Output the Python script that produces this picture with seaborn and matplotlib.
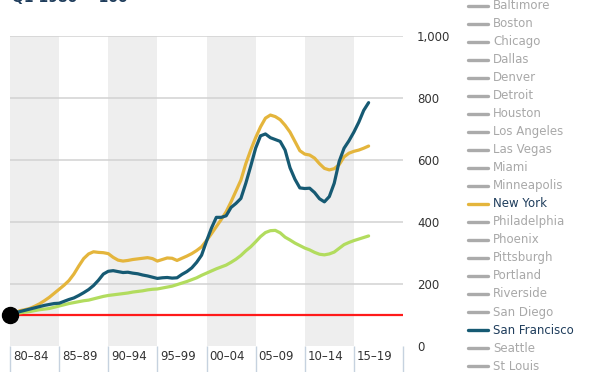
import numpy as np
import pandas as pd
import seaborn as sns
import matplotlib.pyplot as plt
from matplotlib.lines import Line2D
from matplotlib import transforms

sns.set_style('white')
plt.rcParams['font.family'] = ['DejaVu Sans']

years = [1980.0, 1980.5, 1981.0, 1981.5, 1982.0, 1982.5, 1983.0, 1983.5, 1984.0, 1984.5,
         1985.0, 1985.5, 1986.0, 1986.5, 1987.0, 1987.5, 1988.0, 1988.5, 1989.0, 1989.5,
         1990.0, 1990.5, 1991.0, 1991.5, 1992.0, 1992.5, 1993.0, 1993.5, 1994.0, 1994.5,
         1995.0, 1995.5, 1996.0, 1996.5, 1997.0, 1997.5, 1998.0, 1998.5, 1999.0, 1999.5,
         2000.0, 2000.5, 2001.0, 2001.5, 2002.0, 2002.5, 2003.0, 2003.5, 2004.0, 2004.5,
         2005.0, 2005.5, 2006.0, 2006.5, 2007.0, 2007.5, 2008.0, 2008.5, 2009.0, 2009.5,
         2010.0, 2010.5, 2011.0, 2011.5, 2012.0, 2012.5, 2013.0, 2013.5, 2014.0, 2014.5,
         2015.0, 2015.5, 2016.0, 2016.5]

new_york = [100, 106, 114, 117, 121, 128, 136, 146, 157, 170,
            183, 196, 211, 232, 258, 282, 297, 304, 302, 301,
            298, 286, 277, 274, 276, 279, 281, 283, 285, 282,
            274, 279, 284, 283, 276, 283, 290, 298, 308, 320,
            340, 362, 385, 408, 433, 465, 500, 535, 588, 632,
            672, 707, 735, 745, 740, 730, 712, 690, 660, 630,
            619, 616, 606, 588, 573, 568, 572, 585, 610, 622,
            628, 632, 638, 645]

san_francisco = [100, 106, 111, 115, 119, 123, 127, 131, 134, 137,
                 138, 144, 150, 155, 163, 172, 182, 195, 212, 232,
                 241, 243, 240, 237, 238, 235, 233, 229, 226, 222,
                 218, 220, 221, 219, 220, 231, 240, 252, 270, 293,
                 338, 380, 415, 415, 420, 447, 460, 476, 525, 580,
                 638, 678, 684, 672, 666, 660, 632, 575, 538, 510,
                 508, 509, 495, 475, 465, 482, 525, 595, 638, 662,
                 690, 722, 760, 785]

national = [100, 104, 107, 109, 111, 114, 117, 119, 121, 125,
            129, 133, 137, 140, 143, 146, 148, 152, 156, 160,
            163, 165, 167, 169, 171, 174, 176, 178, 181, 183,
            184, 187, 190, 193, 198, 203, 208, 214, 220, 228,
            235, 242, 249, 255, 261, 270, 280, 292, 307, 320,
            336, 353, 366, 372, 373, 365, 351, 342, 332, 324,
            316, 310, 302, 296, 294, 297, 303, 315, 327, 334,
            340, 345, 350, 355]

period_starts = [1980, 1985, 1990, 1995, 2000, 2005, 2010, 2015]
period_labels = ['80–84', '85–89', '90–94', '95–99', '00–04', '05–09', '10–14', '15–19']
y_ticks = [0, 200, 400, 600, 800, 1000]

cities = ['Baltimore', 'Boston', 'Chicago', 'Dallas', 'Denver', 'Detroit', 'Houston',
          'Los Angeles', 'Las Vegas', 'Miami', 'Minneapolis', 'New York', 'Philadelphia',
          'Phoenix', 'Pittsburgh', 'Portland', 'Riverside', 'San Diego', 'San Francisco',
          'Seattle', 'St Louis']

colors = {'New York': '#e4b53c', 'San Francisco': '#165a73', 'National': '#b2dc5e'}

df = pd.DataFrame({'year': years, 'New York': new_york,
                   'San Francisco': san_francisco, 'National': national})
long = df.melt(id_vars='year', var_name='series', value_name='index')

W, H = 592, 372
fig = plt.figure(figsize=(W / 100, H / 100), dpi=100)
ax = fig.add_axes([10 / W, 26 / H, 393 / W, 310 / H])

# alternating period bands
for i, s in enumerate(period_starts):
    if i % 2 == 0:
        ax.axvspan(s, s + 5, color='#eeeeee', lw=0, zorder=0)

for t in y_ticks[1:]:
    ax.axhline(t, color='#d2d2d2', lw=1.1, zorder=1)
ax.axhline(100, color='#ff1a1a', lw=1.6, zorder=2)

sns.lineplot(data=long, x='year', y='index', hue='series', palette=colors,
             hue_order=['National', 'San Francisco', 'New York'],
             linewidth=2.3, legend=False, ax=ax, zorder=3)
# keep SF on top like the original
for line in ax.get_lines():
    if line.get_color() == colors['San Francisco']:
        line.set_zorder(4)

ax.plot([years[0]], [new_york[0]], 'o', color='black', ms=11.5, clip_on=False, zorder=5)

ax.set_xlim(1980, 2020)
ax.set_ylim(0, 1000)
ax.set_xlabel('')
ax.set_ylabel('')
for sp in ax.spines.values():
    sp.set_visible(False)

ax.set_xticks([])
ax.yaxis.tick_right()
ax.set_yticks(y_ticks)
ax.set_yticklabels([f'{v:,}' for v in y_ticks], fontsize=8.5, color='#333333')
ax.tick_params(axis='y', length=0, pad=10)

# period label boxes under the plot
xt = ax.get_xaxis_transform()
bounds = period_starts + [2020]
ax.vlines(bounds, -26 / 310, 0, transform=xt, colors='#c6d2df', lw=1, clip_on=False)
offset = transforms.ScaledTranslation(3 / 100, -11 / 100, fig.dpi_scale_trans)
for s, lab in zip(period_starts, period_labels):
    ax.text(s, 0, lab, transform=xt + offset, ha='left', va='center',
            fontsize=8.5, color='#333333')

# city legend on the right
for i, c in enumerate(cities):
    yc = 1 - (5.5 + i * 18.03) / H
    if c == 'New York':
        lc, tc = colors['New York'], '#1f3d5c'
    elif c == 'San Francisco':
        lc, tc = colors['San Francisco'], '#1f3d5c'
    else:
        lc, tc = '#ababab', '#a8a8a8'
    fig.add_artist(Line2D([468 / W, 488 / W], [yc, yc], color=lc, lw=2.4,
                          transform=fig.transFigure))
    fig.text(493 / W, yc, c, ha='left', va='center', fontsize=8.5, color=tc)

# title, mostly cut off at the top edge as in the source
fig.text(12 / W, 1 - 2 / H, 'Q1 1980 = 100', ha='left', va='baseline',
         fontsize=10, fontweight='bold', color='#1f3d5c')

fig.savefig('out.png', dpi=100)
